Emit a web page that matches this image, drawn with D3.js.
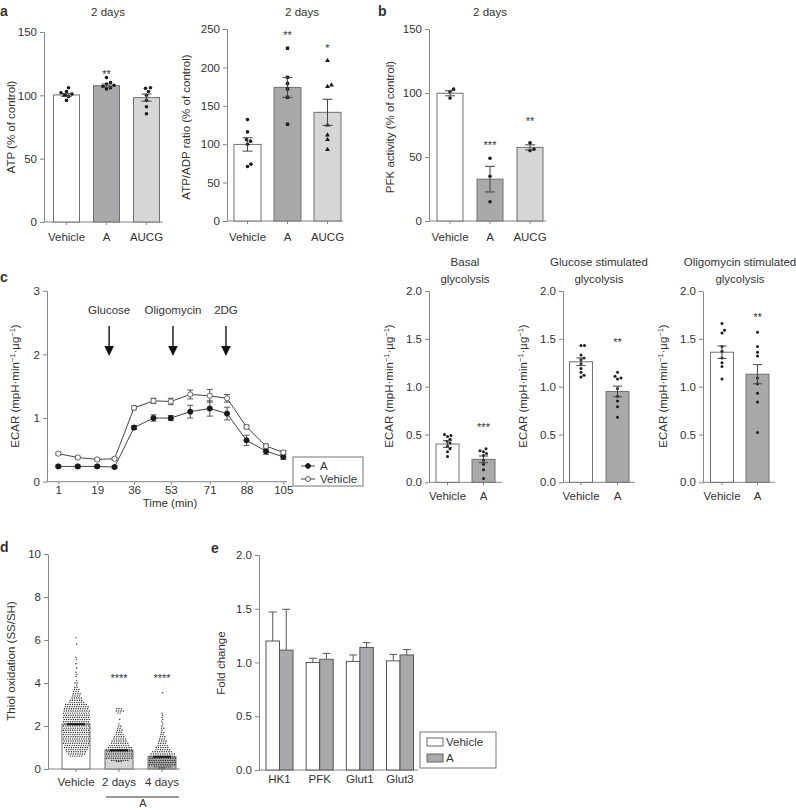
<!DOCTYPE html>
<html>
<head>
<meta charset="utf-8">
<script src="https://cdn.jsdelivr.net/npm/d3@7"></script>
<style>
  body { margin: 0; background: #fff; }
  text { font-family: "Liberation Sans", Arial, sans-serif; fill: #333; }
</style>
</head>
<body>
<svg id="fig" width="796" height="810"></svg>
<script>
// ---------- data ----------
const groups3 = ["Vehicle", "A", "AUCG"];
const groups2 = ["Vehicle", "A"];

// a: ATP
const atpMean = [100.3, 107.6, 98.2];
const atpSem = [1.2, 1.3, 2.8];
const atpPoints = [[106, 103, 102, 101, 100, 99, 96], [114, 110, 109, 108, 107, 106, 105], [106, 105.5, 103, 100, 96, 91, 85.5]];
const atpStars = ["", "**", ""];
const atpStarAt = [0, 119, 0];

// a: ATP/ADP
const ratioMean = [99.7, 174, 141.5];
const ratioSem = [8.7, 13, 17];
const ratioPoints = [[132, 116, 106, 104, 100, 74, 71], [225, 187, 179, 172, 161, 126], [209, 177, 175, 125, 112, 106, 93]];
const ratioStars = ["", "**", "*"];
const ratioStarAt = [0, 246, 229];

// b: PFK activity
const pfkMean = [99.8, 32.7, 57.5];
const pfkSem = [2, 10, 2];
const pfkPoints = [[103, 101, 96], [49, 35, 15], [61, 56, 55]];
const pfkStars = ["", "***", "**"];
const pfkStarAt = [0, 61, 80];

// c: ECAR time course
const timeMin = [1, 10, 19, 27, 36, 45, 53, 62, 71, 79, 88, 97, 105];
const timeTicks = [1, 19, 36, 53, 71, 88, 105];
const ecarA = [0.24, 0.24, 0.24, 0.23, 0.85, 1.00, 1.00, 1.10, 1.15, 1.07, 0.65, 0.48, 0.39];
const ecarAErr = [0.02, 0.02, 0.02, 0.02, 0.03, 0.05, 0.04, 0.10, 0.12, 0.10, 0.08, 0.05, 0.04];
const ecarV = [0.44, 0.38, 0.35, 0.36, 1.16, 1.27, 1.26, 1.37, 1.35, 1.31, 0.86, 0.56, 0.46];
const ecarVErr = [0.02, 0.02, 0.02, 0.02, 0.03, 0.04, 0.05, 0.07, 0.10, 0.06, 0.03, 0.03, 0.03];
const injections = ["Glucose", "Oligomycin", "2DG"];
const injectionTimes = [24.5, 54, 78.5];

// c: glycolysis bars
const basalMean = [0.40, 0.24];
const basalSem = [0.035, 0.035];
const basalPoints = [[0.50, 0.49, 0.48, 0.45, 0.43, 0.41, 0.38, 0.35, 0.32, 0.27], [0.35, 0.33, 0.32, 0.30, 0.28, 0.23, 0.19, 0.13, 0.04]];
const basalStars = ["", "***"];
const basalStarAt = [0, 0.6];

const glucMean = [1.26, 0.95];
const glucSem = [0.04, 0.055];
const glucPoints = [[1.43, 1.43, 1.33, 1.30, 1.28, 1.24, 1.19, 1.15, 1.12, 1.10], [1.15, 1.11, 1.09, 1.08, 0.98, 0.90, 0.85, 0.79, 0.68]];
const glucStars = ["", "**"];
const glucStarAt = [0, 1.49];

const oligoMean = [1.36, 1.13];
const oligoSem = [0.065, 0.10];
const oligoPoints = [[1.66, 1.59, 1.56, 1.42, 1.37, 1.30, 1.25, 1.21, 1.08], [1.57, 1.42, 1.36, 1.32, 1.09, 1.03, 0.93, 0.84, 0.52]];
const oligoStars = ["", "**"];
const oligoStarAt = [0, 1.75];

// d: thiol oxidation, cells per 0.1 bin [bin value, count]
const thiolGroups = ["Vehicle", "2 days", "4 days"];
const thiolMean = [2.08, 0.87, 0.57];
const thiolSem = [0.05, 0.04, 0.04];
const thiolVehicle = [[0.6, 6], [0.7, 8], [0.8, 9], [0.9, 10], [1.0, 11], [1.1, 11], [1.2, 12], [1.3, 12], [1.4, 12], [1.5, 12],
  [1.6, 12], [1.7, 12], [1.8, 12], [1.9, 12], [2.0, 12], [2.1, 12], [2.2, 12], [2.3, 12], [2.4, 12], [2.5, 12], [2.6, 12],
  [2.7, 12], [2.8, 11], [2.9, 11], [3.0, 10], [3.1, 7], [3.2, 6], [3.3, 5], [3.4, 4], [3.5, 4], [3.6, 3], [3.7, 3], [3.8, 2],
  [3.9, 1], [4.0, 2], [4.1, 1], [4.3, 1], [4.4, 1], [4.5, 1], [4.7, 1], [4.9, 1], [5.1, 1], [5.2, 1], [5.8, 1], [6.1, 1]];
const thiol2d = [[0.35, 3], [0.4, 8], [0.5, 12], [0.6, 12], [0.7, 12], [0.8, 12], [0.9, 12], [1.0, 11], [1.1, 9], [1.2, 8],
  [1.3, 7], [1.4, 6], [1.5, 5], [1.6, 4], [1.7, 3], [1.8, 3], [1.9, 2], [2.0, 2], [2.1, 1], [2.3, 1], [2.6, 2], [2.7, 4], [2.8, 3]];
const thiol4d = [[0.05, 3], [0.1, 8], [0.2, 12], [0.3, 12], [0.4, 12], [0.5, 12], [0.6, 12], [0.7, 11], [0.8, 9], [0.9, 7],
  [1.0, 6], [1.1, 5], [1.2, 4], [1.3, 4], [1.4, 3], [1.5, 3], [1.6, 2], [1.7, 2], [1.8, 1], [1.9, 2], [2.0, 1], [2.1, 1],
  [2.2, 1], [2.3, 1], [2.4, 1], [2.5, 1], [2.6, 1], [3.55, 1]];
const thiolStars = ["", "****", "****"];
const thiolStarAt = [0, 4.35, 4.35];

// e: fold change
const genes = ["HK1", "PFK", "Glut1", "Glut3"];
const foldVehicle = [1.20, 1.00, 1.01, 1.015];
const foldVehicleErr = [0.27, 0.04, 0.06, 0.06];
const foldA = [1.115, 1.03, 1.14, 1.07];
const foldAErr = [0.38, 0.055, 0.045, 0.05];

// ---------- style ----------
const axisCol = "#858585";
const textCol = "#333";
const font = '"Liberation Sans", Arial, sans-serif';
const fs = 11.5;
const barStroke = "#707070";
const fills = { "Vehicle": "#ffffff", "A": "#a9a9ab", "AUCG": "#d6d6d8", "2 days": "#d4d4d4", "4 days": "#ababab" };

const svg = d3.select("#fig");

function styleAxis(g) {
  g.attr("font-family", null).attr("font-size", null);
  g.select(".domain").attr("stroke", axisCol);
  g.selectAll(".tick line").attr("stroke", axisCol);
  g.selectAll(".tick text").attr("fill", textCol).style("font-size", fs + "px").style("font-family", font);
}

function yAxis(x, y, ticks, fmt) {
  const g = svg.append("g").attr("transform", `translate(${x},0)`)
    .call(d3.axisLeft(y).tickValues(ticks).tickFormat(fmt).tickSize(4).tickPadding(3).tickSizeOuter(0));
  styleAxis(g);
}

function xBase(x0, x1, yPix, centers) {
  svg.append("line").attr("x1", x0).attr("x2", x1).attr("y1", yPix).attr("y2", yPix).attr("stroke", axisCol);
  svg.append("g").selectAll("line").data(centers).join("line")
    .attr("x1", d => d).attr("x2", d => d).attr("y1", yPix).attr("y2", yPix + 3).attr("stroke", axisCol);
}

function label(x, y, txt, opts = {}) {
  const t = svg.append("text").attr("x", x).attr("y", y).text(txt)
    .attr("text-anchor", opts.anchor || "middle").style("font-size", (opts.size || fs) + "px");
  if (opts.bold) t.style("font-weight", "bold").attr("fill", "#111");
  if (opts.rotate) t.attr("transform", `rotate(-90,${x},${y})`);
  return t;
}

function ecarLabel(x, y) {
  const t = svg.append("text").attr("x", x).attr("y", y).attr("text-anchor", "middle")
    .attr("transform", `rotate(-90,${x},${y})`).style("font-size", fs + "px");
  t.append("tspan").text("ECAR (mpH\u00b7min");
  t.append("tspan").text("\u22121").attr("dy", -4).style("font-size", "7.5px");
  t.append("tspan").text("\u00b7\u00b5g").attr("dy", 4);
  t.append("tspan").text("\u22121").attr("dy", -4).style("font-size", "7.5px");
  t.append("tspan").text(")").attr("dy", 4);
}

function swarm(vals, y, cx, r) {
  const placed = [];
  const dmin = 2 * r + 0.5;
  vals.slice().sort((a, b) => a - b).forEach(v => {
    const py = y(v);
    let k = 0, px;
    for (;;) {
      const off = k === 0 ? 0 : Math.ceil(k / 2) * (k % 2 ? 1 : -1) * 0.5;
      px = cx + off;
      if (placed.every(p => (p[0] - px) ** 2 + (p[1] - py) ** 2 >= dmin * dmin)) break;
      k++;
    }
    placed.push([px, py]);
  });
  return placed;
}

function stars(x, yPix, txt) {
  if (!txt) return;
  svg.append("text").attr("x", x).attr("y", yPix + 6.5).attr("text-anchor", "middle")
    .style("font-size", "11px").attr("fill", "#444").text(txt);
}

function barDotPanel(cfg) {
  const y = d3.scaleLinear().domain(cfg.domain).range([cfg.y0, cfg.y1]);
  const x = d3.scalePoint().domain(cfg.cats).range(cfg.centers);
  yAxis(cfg.axisX, y, cfg.ticks, cfg.fmt);
  xBase(cfg.axisX, cfg.xEnd, y(0), cfg.cats.map(c => x(c)));
  const g = svg.append("g");
  g.selectAll("rect").data(cfg.mean).join("rect")
    .attr("x", (d, i) => x(cfg.cats[i]) - cfg.barW / 2)
    .attr("width", cfg.barW)
    .attr("y", d => y(d))
    .attr("height", d => y(0) - y(d))
    .attr("fill", (d, i) => fills[cfg.cats[i]])
    .attr("stroke", barStroke).attr("stroke-width", 1);
  cfg.points.forEach((pts, i) => {
    const pos = swarm(pts, y, x(cfg.cats[i]), cfg.r);
    const sym = cfg.symbols ? cfg.symbols[i] : d3.symbolCircle;
    const area = sym === d3.symbolCircle ? Math.PI * cfg.r * cfg.r : (sym === d3.symbolTriangle ? 3.2 * cfg.r * cfg.r : 3.6 * cfg.r * cfg.r);
    g.append("g").selectAll("path").data(pos).join("path")
      .attr("transform", d => `translate(${d[0]},${d[1]})`)
      .attr("d", d3.symbol().type(sym).size(area))
      .attr("fill", "#1a1a1a");
  });
  cfg.mean.forEach((m, i) => {
    const cx = x(cfg.cats[i]);
    const lo = y(m - cfg.sem[i]), hi = y(m + cfg.sem[i]);
    const eg = g.append("g").attr("stroke", "#444").attr("stroke-width", 1);
    eg.append("line").attr("x1", cx).attr("x2", cx).attr("y1", lo).attr("y2", hi);
    eg.append("line").attr("x1", cx - cfg.capW / 2).attr("x2", cx + cfg.capW / 2).attr("y1", lo).attr("y2", lo);
    eg.append("line").attr("x1", cx - cfg.capW / 2).attr("x2", cx + cfg.capW / 2).attr("y1", hi).attr("y2", hi);
    stars(cx, y(cfg.starAt[i]), cfg.stars[i]);
  });
  cfg.cats.forEach(c => label(x(c), cfg.labelY, c));
  return { x, y };
}

// ---------- panel a ----------
label(0, 16, "a", { anchor: "start", bold: true, size: 14 });
label(108, 16, "2 days");
label(15, 127, "ATP (% of control)", { rotate: true });
barDotPanel({
  cats: groups3, centers: [66.5, 146.5], barW: 26, axisX: 44, xEnd: 163,
  domain: [0, 150], y0: 222, y1: 32, ticks: [0, 50, 100, 150], fmt: d3.format("d"),
  mean: atpMean, sem: atpSem, points: atpPoints, stars: atpStars, starAt: atpStarAt,
  r: 1.8, capW: 10, labelY: 241
});

label(302, 16, "2 days");
label(190, 127, "ATP/ADP ratio (% of control)", { rotate: true });
barDotPanel({
  cats: groups3, centers: [247.5, 327.5], barW: 27, axisX: 227, xEnd: 343,
  domain: [0, 250], y0: 221, y1: 29, ticks: [0, 50, 100, 150, 200, 250], fmt: d3.format("d"),
  mean: ratioMean, sem: ratioSem, points: ratioPoints, stars: ratioStars, starAt: ratioStarAt,
  symbols: [d3.symbolCircle, d3.symbolSquare, d3.symbolTriangle],
  r: 1.8, capW: 10, labelY: 241
});

// ---------- panel b ----------
label(378, 16, "b", { anchor: "start", bold: true, size: 14 });
label(490, 16, "2 days");
label(394, 127, "PFK activity (% of control)", { rotate: true });
barDotPanel({
  cats: groups3, centers: [450, 530], barW: 26, axisX: 429, xEnd: 546,
  domain: [0, 150], y0: 221, y1: 29, ticks: [0, 50, 100, 150], fmt: d3.format("d"),
  mean: pfkMean, sem: pfkSem, points: pfkPoints, stars: pfkStars, starAt: pfkStarAt,
  r: 1.8, capW: 10, labelY: 241
});

// ---------- panel c: time course ----------
label(0, 282, "c", { anchor: "start", bold: true, size: 14 });
{
  const x = d3.scaleLinear().domain([1, 105]).range([58.3, 283.3]);
  const y = d3.scaleLinear().domain([0, 3]).range([481.7, 290.7]);
  yAxis(47, y, [0, 1, 2, 3], d3.format("d"));
  const gx = svg.append("g").attr("transform", `translate(0,${y(0)})`)
    .call(d3.axisBottom(x).tickValues(timeTicks).tickFormat(d3.format("d")).tickSize(3).tickPadding(1).tickSizeOuter(0));
  gx.select(".domain").remove();
  styleAxis(gx);
  svg.append("line").attr("x1", 47).attr("x2", 287).attr("y1", y(0)).attr("y2", y(0)).attr("stroke", axisCol);
  label(170, 507, "Time (min)");
  ecarLabel(19, 386);

  const series = [
    { v: ecarA, e: ecarAErr, open: false },
    { v: ecarV, e: ecarVErr, open: true }
  ];
  const line = d3.line().x((d, i) => x(timeMin[i])).y(d => y(d));
  series.forEach(s => {
    const g = svg.append("g");
    g.append("path").attr("d", line(s.v)).attr("fill", "none").attr("stroke", "#444").attr("stroke-width", 1);
    g.append("g").attr("stroke", "#444").attr("stroke-width", 0.9).selectAll("g").data(s.v).join("g").each(function (d, i) {
      const sel = d3.select(this), cx = x(timeMin[i]);
      const lo = y(d - s.e[i]), hi = y(d + s.e[i]);
      sel.append("line").attr("x1", cx).attr("x2", cx).attr("y1", lo).attr("y2", hi);
      sel.append("line").attr("x1", cx - 3).attr("x2", cx + 3).attr("y1", lo).attr("y2", lo);
      sel.append("line").attr("x1", cx - 3).attr("x2", cx + 3).attr("y1", hi).attr("y2", hi);
    });
    g.selectAll("circle").data(s.v).join("circle")
      .attr("cx", (d, i) => x(timeMin[i])).attr("cy", d => y(d)).attr("r", 2.6)
      .attr("fill", s.open ? "#fff" : "#1a1a1a").attr("stroke", s.open ? "#555" : "#1a1a1a").attr("stroke-width", 0.9);
  });

  // injection arrows
  injections.forEach((name, i) => {
    const ax = x(injectionTimes[i]);
    label(ax, 314, name);
    svg.append("line").attr("x1", ax).attr("x2", ax).attr("y1", 326).attr("y2", 347).attr("stroke", "#111").attr("stroke-width", 1.4);
    svg.append("path").attr("d", `M${ax - 4.8},346 L${ax + 4.8},346 L${ax},356 Z`).attr("fill", "#111");
  });

  // legend
  svg.append("rect").attr("x", 293).attr("y", 457).attr("width", 70).attr("height", 29)
    .attr("fill", "#fff").attr("stroke", "#777");
  [["A", false, 466], ["Vehicle", true, 479]].forEach(([name, open, ly]) => {
    svg.append("line").attr("x1", 301).attr("x2", 315).attr("y1", ly).attr("y2", ly).attr("stroke", "#444");
    svg.append("circle").attr("cx", 308).attr("cy", ly).attr("r", 2.4)
      .attr("fill", open ? "#fff" : "#1a1a1a").attr("stroke", open ? "#555" : "#1a1a1a");
    label(320, ly + 4, name, { anchor: "start" });
  });
}

// ---------- panel c: glycolysis bars ----------
const glyPanels = [
  { title: ["Basal", "glycolysis"], cx: 465, axisX: 429, centers: [447.5, 483.5], xEnd: 502, labX: 393,
    mean: basalMean, sem: basalSem, points: basalPoints, stars: basalStars, starAt: basalStarAt },
  { title: ["Glucose stimulated", "glycolysis"], cx: 599, axisX: 563, centers: [581, 617.5], xEnd: 635, labX: 527,
    mean: glucMean, sem: glucSem, points: glucPoints, stars: glucStars, starAt: glucStarAt },
  { title: ["Oligomycin stimulated", "glycolysis"], cx: 740, axisX: 703, centers: [722, 757.5], xEnd: 775, labX: 667,
    mean: oligoMean, sem: oligoSem, points: oligoPoints, stars: oligoStars, starAt: oligoStarAt }
];
glyPanels.forEach(p => {
  label(p.cx, 266, p.title[0]);
  label(p.cx, 283, p.title[1]);
  ecarLabel(p.labX, 386);
  barDotPanel({
    cats: groups2, centers: p.centers, barW: 23, axisX: p.axisX, xEnd: p.xEnd,
    domain: [0, 2], y0: 482.3, y1: 291, ticks: [0, 0.5, 1, 1.5, 2], fmt: d3.format(".1f"),
    mean: p.mean, sem: p.sem, points: p.points, stars: p.stars, starAt: p.starAt,
    r: 1.5, capW: 9, labelY: 500
  });
});

// ---------- panel d ----------
label(0, 552, "d", { anchor: "start", bold: true, size: 14 });
{
  const y = d3.scaleLinear().domain([0, 10]).range([769, 554]);
  const x = d3.scalePoint().domain(thiolGroups).range([76, 162]);
  const barW = 28;
  yAxis(48, y, [0, 2, 4, 6, 8, 10], d3.format("d"));
  xBase(48, 180, y(0), thiolGroups.map(c => x(c)));
  label(15, 661, "Thiol oxidation (SS/SH)", { rotate: true });
  svg.append("g").selectAll("rect").data(thiolMean).join("rect")
    .attr("x", (d, i) => x(thiolGroups[i]) - barW / 2).attr("width", barW)
    .attr("y", d => y(d)).attr("height", d => y(0) - y(d))
    .attr("fill", (d, i) => fills[thiolGroups[i]]).attr("stroke", barStroke);
  [thiolVehicle, thiol2d, thiol4d].forEach((bins, gi) => {
    const cx = x(thiolGroups[gi]);
    const dots = [];
    bins.forEach(([v, n], bi) => {
      const sp = Math.min(2.3, (barW - 3) / Math.max(n - 1, 1));
      const shift = (bi % 2) * 0.7;
      for (let k = 0; k < n; k++) dots.push([cx + (k - (n - 1) / 2) * sp + shift, y(v)]);
    });
    svg.append("g").selectAll("circle").data(dots).join("circle")
      .attr("cx", d => d[0]).attr("cy", d => d[1]).attr("r", 0.72).attr("fill", "#2a2a2a");
    const m = thiolMean[gi], s = thiolSem[gi];
    svg.append("line").attr("x1", cx - 9).attr("x2", cx + 9).attr("y1", y(m)).attr("y2", y(m))
      .attr("stroke", "#111").attr("stroke-width", 2);
    svg.append("line").attr("x1", cx).attr("x2", cx).attr("y1", y(m - s)).attr("y2", y(m + s))
      .attr("stroke", "#111").attr("stroke-width", 1);
    stars(cx, y(thiolStarAt[gi]), thiolStars[gi]);
    label(cx, 786, thiolGroups[gi]);
  });
  svg.append("line").attr("x1", 106).attr("x2", 179).attr("y1", 797).attr("y2", 797).attr("stroke", "#333");
  label(143, 807, "A", { size: 11 });
}

// ---------- panel e ----------
label(211, 553, "e", { anchor: "start", bold: true, size: 14 });
{
  const y = d3.scaleLinear().domain([0, 2]).range([770, 555]);
  const x = d3.scalePoint().domain(genes).range([279.5, 400]);
  const bw = 13.5;
  yAxis(259, y, [0, 0.5, 1, 1.5, 2], d3.format(".1f"));
  xBase(259, 418, y(0), []);
  label(225, 663, "Fold change", { rotate: true });
  const sets = [
    { v: foldVehicle, e: foldVehicleErr, off: -bw / 2, fill: fills["Vehicle"] },
    { v: foldA, e: foldAErr, off: bw / 2, fill: fills["A"] }
  ];
  sets.forEach(s => {
    const g = svg.append("g");
    s.v.forEach((d, i) => {
      const cx = x(genes[i]) + s.off;
      g.append("line").attr("x1", cx).attr("x2", cx).attr("y1", y(d)).attr("y2", y(d + s.e[i])).attr("stroke", "#555");
      g.append("line").attr("x1", cx - 4).attr("x2", cx + 4).attr("y1", y(d + s.e[i])).attr("y2", y(d + s.e[i])).attr("stroke", "#555");
      g.append("rect").attr("x", cx - bw / 2).attr("width", bw).attr("y", y(d)).attr("height", y(0) - y(d))
        .attr("fill", s.fill).attr("stroke", "#555").attr("stroke-width", 1);
    });
  });
  genes.forEach(gn => label(x(gn), 783, gn));
  svg.append("rect").attr("x", 420).attr("y", 732).attr("width", 76).attr("height", 36).attr("fill", "#fff").attr("stroke", "#777");
  [["Vehicle", fills["Vehicle"], 738], ["A", fills["A"], 754]].forEach(([name, f, ly]) => {
    svg.append("rect").attr("x", 427).attr("y", ly).attr("width", 16).attr("height", 8).attr("fill", f).attr("stroke", "#666");
    label(446, ly + 8, name, { anchor: "start" });
  });
}
</script>
</body>
</html>
